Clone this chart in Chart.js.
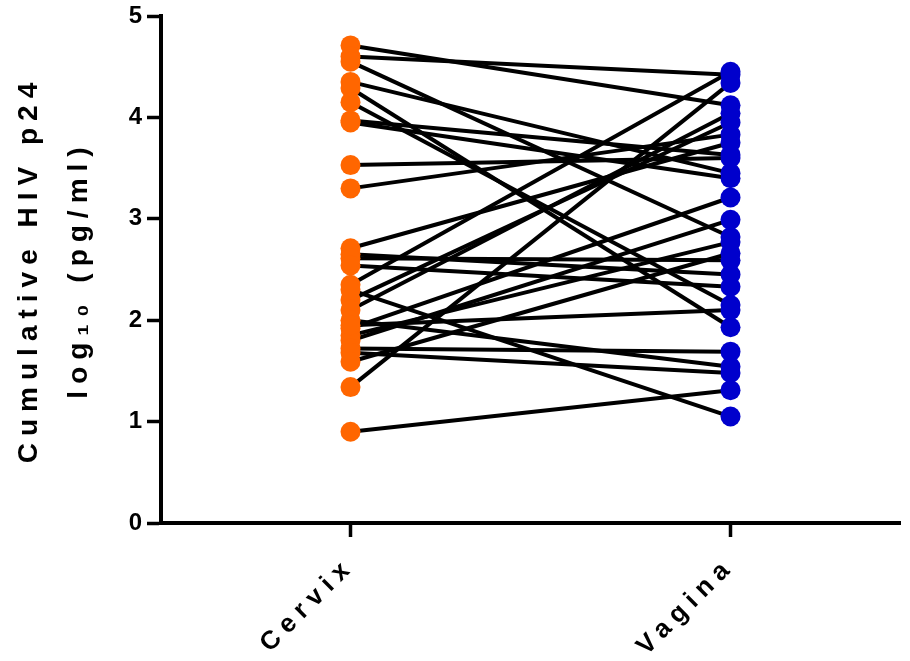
<!DOCTYPE html>
<html>
<head>
<meta charset="utf-8">
<script src="https://cdn.jsdelivr.net/npm/chart.js@4"></script>
<style>
  html, body { margin: 0; background: #fff; }
  #wrap { width: 910px; height: 661px; }
</style>
</head>
<body>
<div id="wrap"><canvas id="grafica"></canvas></div>
<script>
// Datos (log10 pg/ml), un par por donante
const categories = ['Cervix', 'Vagina'];
const cervix = [4.71, 4.60, 4.55, 4.35, 4.29, 4.15, 3.97, 3.95, 3.53, 3.30, 2.71, 2.65, 2.61, 2.54,
                2.35, 2.20, 2.30, 2.10, 2.00, 1.92, 1.85, 1.80, 1.72, 1.68, 1.59, 1.34, 0.90, 1.95];
const vagina = [4.12, 4.42, 2.82, 3.45, 1.93, 2.15, 3.63, 3.40, 3.60, 3.83, 3.75, 2.45, 2.59, 2.33,
                4.45, 3.95, 1.05, 4.04, 1.54, 3.21, 2.77, 2.99, 1.69, 1.48, 2.66, 4.34, 1.31, 2.10];
const yTicks = [0, 1, 2, 3, 4, 5];
const yTitle = ['Cumulative HIV p24', 'log₁₀ (pg/ml)'];

const fuente = { family: 'Liberation Sans, Arial, sans-serif', weight: 'bold' };

// Espaciado de letras como en el original
const espaciado = {
    id: 'espaciado',
    beforeUpdate(chart) { chart.ctx.letterSpacing = '7px'; },
    beforeDraw(chart) { chart.ctx.letterSpacing = '7px'; }
};

const lineas = cervix.map((c, i) => ({
    data: [{ x: 0, y: c }, { x: 1, y: vagina[i] }],
    borderColor: '#000',
    borderWidth: 4,
    pointRadius: 0,
    clip: false,
    order: 2
}));

const puntos = [
    {
        data: cervix.map(v => ({ x: 0, y: v })),
        showLine: false,
        pointRadius: 10,
        pointBorderWidth: 0,
        pointBackgroundColor: '#FF6600',
        clip: false,
        order: 0
    },
    {
        data: vagina.map(v => ({ x: 1, y: v })),
        showLine: false,
        pointRadius: 10,
        pointBorderWidth: 0,
        pointBackgroundColor: '#0000CC',
        clip: false,
        order: 0
    }
];

const ctx = document.getElementById('grafica').getContext('2d');
new Chart(ctx, {
    type: 'line',
    data: { datasets: lineas.concat(puntos) },
    plugins: [espaciado],
    options: {
        responsive: true,
        maintainAspectRatio: false,
        animation: false,
        layout: { padding: { top: 16, right: 0, left: 0, bottom: 0 } },
        plugins: {
            legend: { display: false },
            tooltip: { enabled: false }
        },
        scales: {
            x: {
                type: 'linear',
                min: -0.4987,
                max: 1.446,
                afterBuildTicks: s => { s.ticks = [{ value: 0 }, { value: 1 }]; },
                afterFit: s => { s.height = 138; },
                ticks: {
                    callback: v => categories[v],
                    minRotation: 45,
                    maxRotation: 45,
                    padding: 14,
                    color: '#000',
                    font: { ...fuente, size: 26 }
                },
                grid: {
                    drawOnChartArea: false,
                    drawTicks: true,
                    tickLength: 14,
                    tickWidth: 3.5,
                    tickColor: '#000',
                    color: '#000'
                },
                border: { color: '#000', width: 4 }
            },
            y: {
                min: 0,
                max: 5,
                afterBuildTicks: s => { s.ticks = yTicks.map(v => ({ value: v })); },
                afterFit: s => { s.width = 161; },
                ticks: {
                    padding: -2,
                    color: '#000',
                    font: { ...fuente, size: 24 }
                },
                grid: {
                    drawOnChartArea: false,
                    drawTicks: true,
                    tickLength: 14,
                    tickWidth: 3.5,
                    tickColor: '#000',
                    color: '#000'
                },
                border: { color: '#000', width: 4 },
                title: {
                    display: true,
                    text: yTitle,
                    color: '#000',
                    font: { ...fuente, size: 28, lineHeight: 1.8 },
                    padding: { top: 4, bottom: 0 }
                }
            }
        }
    }
});
</script>
</body>
</html>
